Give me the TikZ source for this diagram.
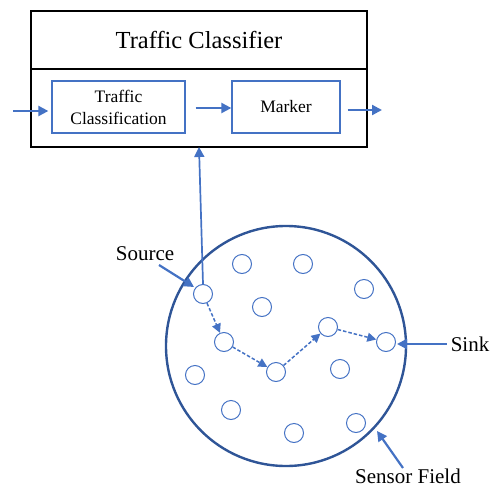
\documentclass[tikz,border=0pt]{standalone}
\usepackage{fontspec}
\setmainfont{Liberation Serif}
\usetikzlibrary{arrows.meta}
\definecolor{arrblue}{HTML}{4472C4}
\definecolor{fieldblue}{HTML}{2F5597}
\begin{document}
\begin{tikzpicture}[x=1pt,y=-1pt,
  outerbox/.style={draw=black,line width=1.3pt,minimum width=336pt,inner sep=0pt,outer sep=0pt},
  innerbox/.style={draw=arrblue,line width=1.3pt,minimum height=52pt,inner sep=0pt,align=center,font=\fontsize{17.5}{22}\selectfont},
  sensor/.style={draw=arrblue,circle,line width=1pt,minimum size=19pt,inner sep=0pt},
  arr/.style={draw=arrblue,line width=2.2pt,-{Triangle[length=10pt,width=10pt]}},
  darr/.style={draw=arrblue,line width=1.5pt,dash pattern=on 3.5pt off 2pt,-{Triangle[length=9pt,width=9pt]}},
  lbl/.style={font=\fontsize{21}{25}\selectfont,inner sep=0pt}]
\useasboundingbox (0,0) rectangle (497,487);
% top block
\node[outerbox,minimum height=58pt,font=\fontsize{24.5}{29}\selectfont] (title) at (199,40) {Traffic Classifier};
\node[outerbox,minimum height=78pt] (lower) at (199,108) {};
\node[innerbox,minimum width=133pt] (tc) at (118.5,107) {Traffic\\Classification};
\node[innerbox,minimum width=108pt] (mk) at (286,107) {Marker};
\coordinate (inL) at (13,111);
\coordinate (outR) at (382,110);
\draw[arr] (inL) -- ([xshift=-3pt]tc.west |- inL);
\draw[arr] ([xshift=10pt]tc.east |- 0,108) -- (mk.west |- 0,108);
\draw[arr] ([xshift=7pt]mk.east |- outR) -- (outR);
% sensor field
\node[draw=fieldblue,circle,line width=2.4pt,minimum size=240pt,inner sep=0pt] (field) at (286,346) {};
\node[sensor] (src) at (203,294) {};
\node[sensor] (n1) at (242,264) {};
\node[sensor] (n2) at (303,264) {};
\node[sensor] (n3) at (364,289) {};
\node[sensor] (n4) at (262,307) {};
\node[sensor] (h1) at (224,342) {};
\node[sensor] (h3) at (328,327) {};
\node[sensor] (sink) at (386,342) {};
\node[sensor] (h2) at (276,372) {};
\node[sensor] (n5) at (340,369) {};
\node[sensor] (n6) at (195,375) {};
\node[sensor] (n7) at (231,410) {};
\node[sensor] (n8) at (356,423) {};
\node[sensor] (n9) at (294,433) {};
\draw[darr] (src) -- (h1);
\draw[darr] (h1) -- (h2);
\draw[darr] (h2) -- (h3);
\draw[darr] (h3) -- (sink);
% link to classifier
\draw[draw=arrblue,line width=1.7pt,-{Triangle[length=10pt,width=10pt]}] (src.north) -- (lower.south);
% labels
\node[lbl] (srcl) at (145,254) {Source};
\coordinate (srcT) at (159,265);
\coordinate (srcH) at (194,287);
\draw[arr] (srcT) -- (srcH);
\node[lbl] (sinkl) at (470,344) {Sink};
\draw[arr] ([xshift=-4pt]sinkl.west) -- (397,344);
\node[lbl] (sfl) at (408,476) {Sensor Field};
\coordinate (sfH) at (377,431);
\draw[arr] (403,468) -- (sfH);
\end{tikzpicture}
\end{document}
